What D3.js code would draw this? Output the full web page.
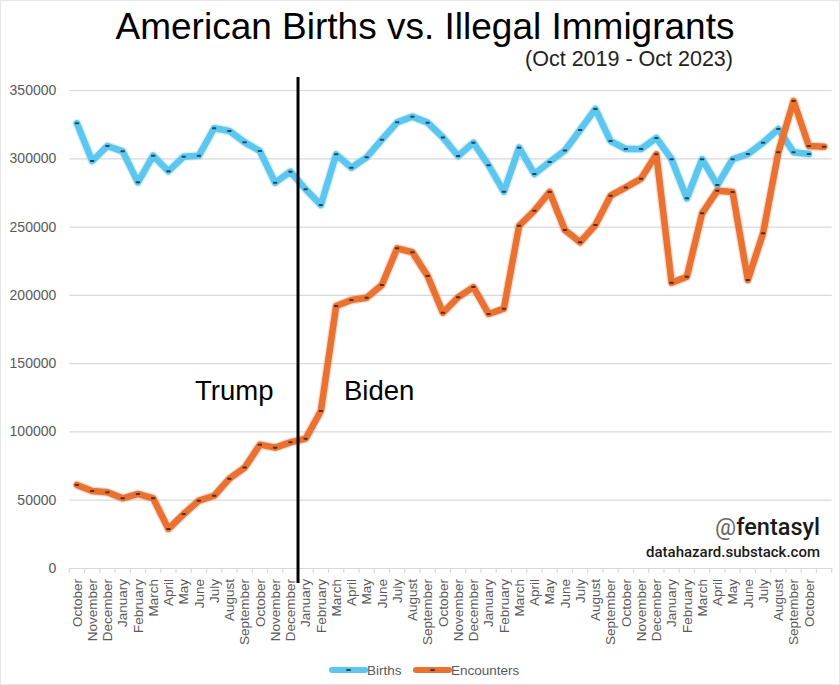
<!DOCTYPE html>
<html>
<head>
<meta charset="utf-8">
<script src="https://cdn.jsdelivr.net/npm/d3@7"></script>
<style>
  html, body { margin: 0; padding: 0; background: #ffffff; }
  svg { display: block; }
</style>
</head>
<body>
<script>
// ---------------- DATA ----------------
const months = [
  "October","November","December",
  "January","February","March","April","May","June","July","August","September","October","November","December",
  "January","February","March","April","May","June","July","August","September","October","November","December",
  "January","February","March","April","May","June","July","August","September","October","November","December",
  "January","February","March","April","May","June","July","August","September","October",""
];
const births = [
  325600, 298000, 309000, 305100, 282400, 301900, 290500, 301200, 301900, 322000,
  320000, 311700, 305300, 282100, 290200, 277300, 265800, 302900, 293100, 300700,
  313600, 326300, 330500, 326100, 315300, 301700, 311400, 294900, 275500, 307800,
  288500, 297300, 305700, 320700, 336100, 312600, 306800, 306800, 314900, 299300,
  270700, 299300, 280400, 299300, 303100, 311400, 321400, 304400, 303100
];
const encounters = [
  60800, 56400, 55400, 51000, 54200, 51000, 28600, 39500, 49300, 52900,
  65400, 73500, 90300, 88100, 92000, 94700, 115000, 191800, 196200, 197900,
  207200, 234100, 231200, 213800, 186900, 198200, 205700, 186000, 189900, 250600,
  261600, 275300, 247500, 238500, 251100, 272600, 278700, 285100, 302900, 208900,
  213300, 259700, 276300, 275300, 210900, 245100, 304400, 341900, 309000, 308500
];
const yTicks = [0, 50000, 100000, 150000, 200000, 250000, 300000, 350000];
const seriesNames = ["Births", "Encounters"];
const dividerIndex = 15; // first month of the Biden term (January 2021)

// ---------------- LAYOUT ----------------
const W = 840, H = 685;
const mLeft = 69.3, mRight = 831.7, mTop = 90, mBottom = 568;
const blue = "#5cc6ef", orange = "#e97132";
const blueMark = "#1c4a66", orangeMark = "#5e2a0e";
const font = "'Liberation Sans', Arial, sans-serif";
const wmFont = "Roboto, 'DejaVu Sans', sans-serif";

const svg = d3.select("body").append("svg").attr("width", W).attr("height", H);
svg.append("rect").attr("x", 0.5).attr("y", 0.5).attr("width", W - 1).attr("height", H - 1)
  .attr("fill", "#fff").attr("stroke", "#e6e6e6");

const idx = d3.range(months.length);
const x = d3.scaleBand().domain(idx).range([mLeft, mRight]).padding(0);
const xc = i => x(i) + x.bandwidth() / 2;
const y = d3.scaleLinear().domain([0, 350000]).range([mBottom, mTop]);

// Title
svg.append("text").attr("x", 425).attr("y", 39).attr("text-anchor", "middle")
  .attr("font-family", font).attr("font-size", 37).attr("fill", "#000")
  .text("American Births vs. Illegal Immigrants");
svg.append("text").attr("x", 733).attr("y", 66).attr("text-anchor", "end")
  .attr("font-family", font).attr("font-size", 21.5).attr("fill", "#222")
  .text("(Oct 2019 - Oct 2023)");

// Gridlines + y axis
const yAxis = d3.axisLeft(y).tickValues(yTicks).tickSize(-(mRight - mLeft)).tickFormat(d3.format("d"));
const gy = svg.append("g").attr("transform", `translate(${mLeft},0)`).call(yAxis);
gy.select(".domain").remove();
gy.selectAll(".tick line").attr("stroke", "#d9d9d9").attr("stroke-width", 1.2);
gy.selectAll(".tick text").attr("x", -13).attr("font-family", font).attr("font-size", 14)
  .attr("fill", "#595959");

// X axis
const xAxis = d3.axisBottom(x).tickSize(0).tickFormat(i => months[i]);
const gx = svg.append("g").attr("transform", `translate(0,${mBottom})`).call(xAxis);
gx.select(".domain").attr("stroke", "#d9d9d9").attr("stroke-width", 1.2);
gx.selectAll(".tick text")
  .attr("font-family", font).attr("font-size", 13.5).attr("fill", "#595959")
  .attr("text-anchor", "end")
  .attr("transform", "rotate(-90)")
  .attr("x", -11).attr("y", 0).attr("dy", "0.35em");
// band-edge tick marks
svg.append("g").selectAll("line").data(d3.range(months.length + 1)).join("line")
  .attr("x1", i => mLeft + i * x.step()).attr("x2", i => mLeft + i * x.step())
  .attr("y1", mBottom).attr("y2", mBottom + 5)
  .attr("stroke", "#d9d9d9").attr("stroke-width", 1.2);

// Lines
function drawSeries(values, color, markColor) {
  const line = d3.line().x((d, i) => xc(i)).y(d => y(d));
  svg.append("path").datum(values).attr("d", line).attr("fill", "none")
    .attr("stroke", color).attr("stroke-opacity", 0.25).attr("stroke-width", 9)
    .attr("stroke-linejoin", "round").attr("stroke-linecap", "round");
  svg.append("path").datum(values).attr("d", line).attr("fill", "none")
    .attr("stroke", color).attr("stroke-width", 6.5)
    .attr("stroke-linejoin", "round").attr("stroke-linecap", "round");
  svg.append("g").selectAll("rect").data(values).join("rect")
    .attr("x", (d, i) => xc(i) - 2.2).attr("y", d => y(d) - 1)
    .attr("width", 4.4).attr("height", 2).attr("rx", 0.8)
    .attr("fill", markColor);
}
drawSeries(births, blue, blueMark);
drawSeries(encounters, orange, orangeMark);

// Divider
const dx = x(dividerIndex);
svg.append("line").attr("x1", dx).attr("x2", dx).attr("y1", 77).attr("y2", 583)
  .attr("stroke", "#000").attr("stroke-width", 3);

// Annotations
svg.append("text").attr("x", 195).attr("y", 400).attr("font-family", font)
  .attr("font-size", 27.5).attr("fill", "#000").text("Trump");
svg.append("text").attr("x", 344).attr("y", 400).attr("font-family", font)
  .attr("font-size", 27.5).attr("fill", "#000").text("Biden");

// Watermark
const wm = svg.append("text").attr("x", 820).attr("y", 535).attr("text-anchor", "end")
  .attr("font-family", wmFont).attr("font-size", 23.5).attr("font-weight", 500)
  .attr("fill", "#1a1a1a");
wm.append("tspan").attr("fill", "#666").attr("font-weight", 400).text("@");
wm.append("tspan").text("fentasyl");
svg.append("text").attr("x", 820).attr("y", 556.5).attr("text-anchor", "end")
  .attr("font-family", wmFont).attr("font-size", 15).attr("font-weight", 500)
  .attr("fill", "#1a1a1a").text("datahazard.substack.com");

// Legend
const legendItems = [
  { name: seriesNames[0], color: blue, mark: blueMark, x: 332 },
  { name: seriesNames[1], color: orange, mark: orangeMark, x: 416 }
];
const lg = svg.append("g").selectAll("g").data(legendItems).join("g")
  .attr("transform", d => `translate(${d.x},670)`);
lg.append("line").attr("x1", 0).attr("x2", 33).attr("y1", 0).attr("y2", 0)
  .attr("stroke", d => d.color).attr("stroke-width", 6).attr("stroke-linecap", "round");
lg.append("rect").attr("x", 14.3).attr("y", -1).attr("width", 4.4).attr("height", 2)
  .attr("fill", d => d.mark);
lg.append("text").attr("x", 35).attr("y", 0).attr("dy", "0.35em")
  .attr("font-family", font).attr("font-size", 13.5).attr("fill", "#595959")
  .text(d => d.name);
</script>
</body>
</html>
